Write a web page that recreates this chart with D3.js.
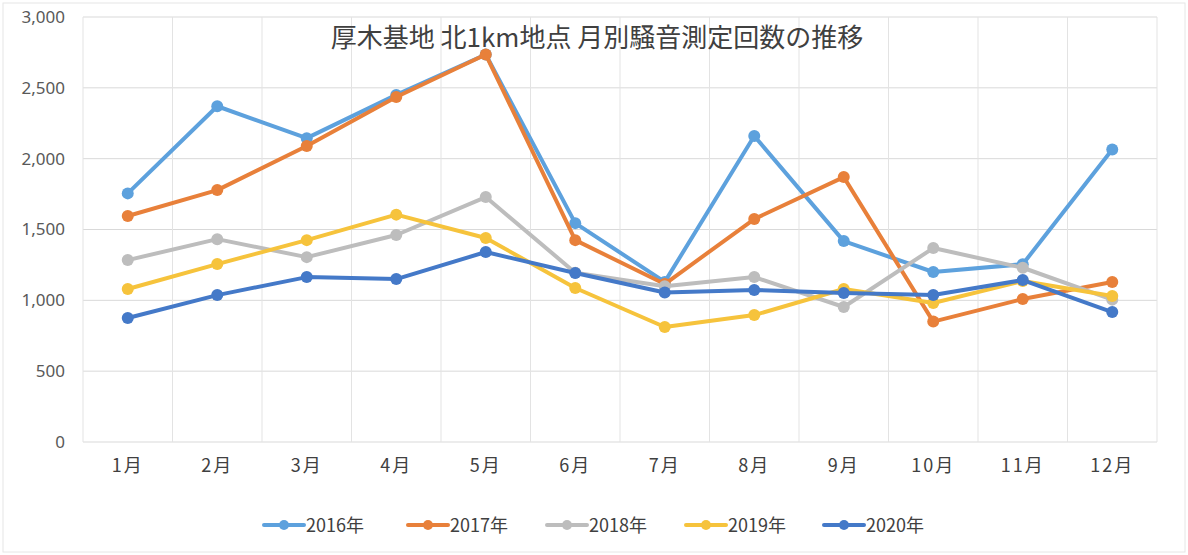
<!DOCTYPE html>
<html>
<head>
<meta charset="utf-8">
<script src="https://cdn.jsdelivr.net/npm/d3@7"></script>
<style>
  body { margin: 0; background: white; }
  svg { font-family: "Noto Sans CJK JP", "Noto Sans", sans-serif; }
</style>
</head>
<body>
<div id="chart-area"></div>
<script>
// data
const months = ["1月", "2月", "3月", "4月", "5月", "6月", "7月", "8月", "9月", "10月", "11月", "12月"]
const years = ["2016年", "2017年", "2018年", "2019年", "2020年"]
const v2016 = [1755, 2370, 2145, 2450, 2735, 1545, 1130, 2160, 1418, 1200, 1255, 2065]
const v2017 = [1595, 1778, 2089, 2435, 2735, 1425, 1115, 1574, 1870, 850, 1009, 1129]
const v2018 = [1284, 1432, 1305, 1461, 1729, 1195, 1100, 1164, 953, 1369, 1230, 1005]
const v2019 = [1080, 1256, 1425, 1605, 1440, 1087, 812, 896, 1080, 981, 1136, 1030]
const v2020 = [875, 1037, 1164, 1150, 1341, 1193, 1055, 1073, 1052, 1037, 1143, 917]
const yTicks = [0, 500, 1000, 1500, 2000, 2500, 3000]
const colors = ["#5DA1DD", "#E8803A", "#BDBDBD", "#F6C33C", "#4479C8"]

const series = [v2016, v2017, v2018, v2019, v2020].map((values, i) => ({
    name: years[i], color: colors[i], values: values
}))

const W = 1188, H = 555
const margin = {left: 83, right: 31, top: 17, bottom: 113}
const width = W - margin.left - margin.right,
    height = H - margin.top - margin.bottom

const svg = d3.select("#chart-area").append("svg")
    .attr("width", W)
    .attr("height", H)

// faint outer frame
svg.append("rect")
    .attr("x", 3).attr("y", 3)
    .attr("width", W - 6).attr("height", H - 6)
    .attr("fill", "white")
    .attr("stroke", "#e6e6e6")

const g = svg.append("g")
    .attr("transform", `translate(${margin.left}, ${margin.top})`)

const x = d3.scaleBand()
    .domain(months)
    .range([0, width])

const y = d3.scaleLinear()
    .domain([0, 3000])
    .range([height, 0])

// horizontal grid
g.append("g")
    .selectAll("line")
    .data(yTicks)
    .join("line")
    .attr("x1", 0).attr("x2", width)
    .attr("y1", d => y(d)).attr("y2", d => y(d))
    .attr("stroke", "#d9d9d9")
    .attr("stroke-width", 1)

// vertical grid at band edges
g.append("g")
    .selectAll("line")
    .data(months.concat(["end"]))
    .join("line")
    .attr("x1", (d, i) => i * x.step()).attr("x2", (d, i) => i * x.step())
    .attr("y1", 0).attr("y2", height)
    .attr("stroke", "#e3e3e3")
    .attr("stroke-width", 1)

// Y axis labels
const yAxisCall = d3.axisLeft(y)
    .tickValues(yTicks)
    .tickFormat(d3.format(","))
    .tickSize(0)
    .tickPadding(18)

const yAxis = g.append("g").call(yAxisCall)
yAxis.select(".domain").remove()
yAxis.selectAll("text")
    .attr("font-size", "17px")
    .attr("fill", "#595959")
    .attr("font-family", "'Noto Sans', sans-serif")

// X axis labels
const xAxisCall = d3.axisBottom(x).tickSize(0).tickPadding(17)
const xAxis = g.append("g")
    .attr("transform", `translate(0, ${height})`)
    .call(xAxisCall)
xAxis.select(".domain").remove()
xAxis.selectAll("text")
    .attr("font-size", "18px")
    .attr("letter-spacing", "2px")
    .attr("fill", "#404040")
    .attr("font-family", "'Noto Sans CJK JP', sans-serif")

// lines
const line = d3.line()
    .x((d, i) => x(months[i]) + x.bandwidth() / 2)
    .y(d => y(d))

const lines = g.append("g")
    .selectAll("g")
    .data(series)
    .join("g")

lines.append("path")
    .attr("d", d => line(d.values))
    .attr("fill", "none")
    .attr("stroke", d => d.color)
    .attr("stroke-width", 4)
    .attr("stroke-linejoin", "round")
    .attr("stroke-linecap", "round")

lines.selectAll("circle")
    .data(d => d.values.map(v => ({v: v, color: d.color})))
    .join("circle")
    .attr("cx", (d, i) => x(months[i]) + x.bandwidth() / 2)
    .attr("cy", d => y(d.v))
    .attr("r", 6)
    .attr("fill", d => d.color)

// Title
svg.append("text")
    .attr("x", 597)
    .attr("y", 47)
    .attr("text-anchor", "middle")
    .attr("font-size", "26px")
    .attr("fill", "#404040")
    .text("厚木基地 北1km地点 月別騒音測定回数の推移")

// Legend
const legendX = [264, 408, 547, 686, 824]
const legend = svg.append("g")
    .selectAll("g")
    .data(series)
    .join("g")
    .attr("transform", (d, i) => `translate(${legendX[i]}, 525)`)

legend.append("line")
    .attr("x1", 0).attr("x2", 40)
    .attr("y1", 0).attr("y2", 0)
    .attr("stroke", d => d.color)
    .attr("stroke-width", 4)
    .attr("stroke-linecap", "round")

legend.append("circle")
    .attr("cx", 20).attr("cy", 0).attr("r", 5)
    .attr("fill", d => d.color)

legend.append("text")
    .attr("x", 42)
    .attr("y", 7)
    .attr("font-size", "18px")
    .attr("fill", "#404040")
    .text(d => d.name)
</script>
</body>
</html>
